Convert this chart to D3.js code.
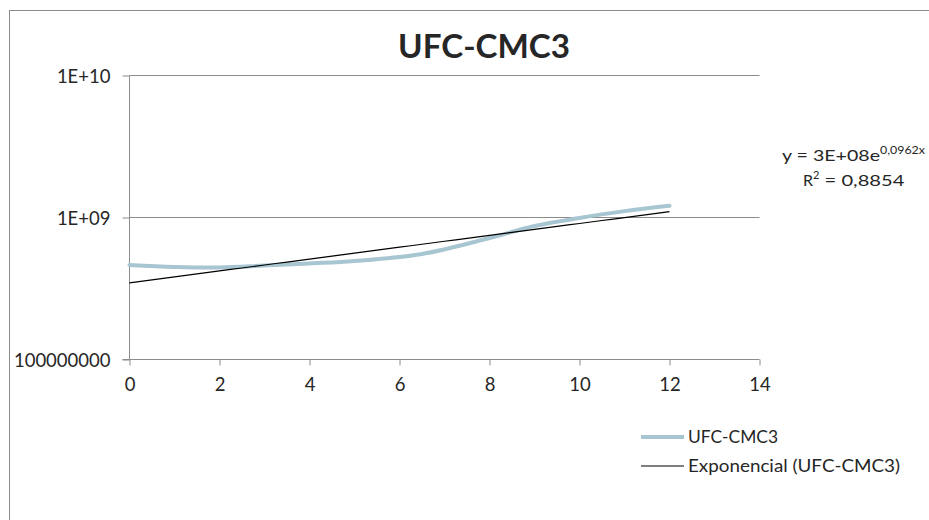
<!DOCTYPE html>
<html>
<head>
<meta charset="utf-8">
<script src="https://cdn.jsdelivr.net/npm/d3@7"></script>
<style>
  html, body { margin: 0; padding: 0; background: #fff; }
  svg text { font-family: Lato, "Noto Sans", sans-serif; fill: #262626; }
</style>
</head>
<body>
<svg id="chart" width="929" height="520"></svg>
<script>
// Measured colony counts (UFC) over time
const hours = [0, 1, 2, 3, 4, 5, 6.5, 8, 9, 10, 11, 12];
const ufc   = [4.59e8, 4.45e8, 4.41e8, 4.55e8, 4.71e8, 4.90e8, 5.49e8, 7.11e8, 8.64e8, 9.84e8, 1.10e9, 1.20e9];

// Exponential trend y = a * e^(b x)
const trendA = 3.44e8;
const trendB = 0.0962;
const trendR2 = 0.8854;

const xTicks = [0, 2, 4, 6, 8, 10, 12, 14];
const yTicks = [1e8, 1e9, 1e10];
const yTickLabels = ["100000000", "1E+09", "1E+10"];

const title = "UFC-CMC3";
const legendLabels = ["UFC-CMC3", "Exponencial (UFC-CMC3)"];

const svg = d3.select("#chart");

// outer chart frame
svg.append("rect")
  .attr("x", 9.5).attr("y", 10.5)
  .attr("width", 960).attr("height", 560)
  .attr("fill", "none").attr("stroke", "#8c8c8c").attr("stroke-width", 1);

const x = d3.scaleLinear().domain([0, 14]).range([129.5, 759.5]);
const y = d3.scaleLog().domain([1e8, 1e10]).range([359, 75]);

// horizontal gridlines
svg.append("g").selectAll("line")
  .data(yTicks.slice(1))
  .join("line")
  .attr("x1", x(0)).attr("x2", x(14))
  .attr("y1", d => Math.round(y(d)) + 0.5).attr("y2", d => Math.round(y(d)) + 0.5)
  .attr("stroke", "#8c8c8c").attr("stroke-width", 1);

// y axis
const yAxis = d3.axisLeft(y)
  .tickValues(yTicks)
  .tickSize(7)
  .tickFormat((d, i) => yTickLabels[i]);
const gy = svg.append("g").attr("transform", `translate(${x(0)},0.5)`).call(yAxis);
gy.select(".domain").attr("stroke", "#8c8c8c").attr("d", `M-7,${Math.round(y(1e8))}H0V${Math.round(y(1e10))}`);
gy.selectAll(".tick line").attr("stroke", "#8c8c8c");
gy.selectAll(".tick text")
  .attr("x", -19)
  .attr("dy", "0.36em")
  .style("font-size", "18.5px")
  .style("font-family", "Lato, 'Noto Sans', sans-serif")
  .attr("fill", "#262626");

// x axis
const xAxis = d3.axisBottom(x).tickValues(xTicks).tickSize(6).tickFormat(d3.format("d"));
const gx = svg.append("g").attr("transform", `translate(0,${Math.round(y(1e8)) + 0.5})`).call(xAxis);
gx.select(".domain").attr("stroke", "#8c8c8c").attr("d", `M${x(0)},0H${x(14)}`);
gx.selectAll(".tick line").attr("stroke", "#8c8c8c");
gx.selectAll(".tick text")
  .attr("y", 18)
  .style("font-size", "18.5px")
  .style("font-family", "Lato, 'Noto Sans', sans-serif")
  .attr("fill", "#262626");

// data series
const line = d3.line()
  .x((d, i) => x(hours[i]))
  .y(d => y(d))
  .curve(d3.curveCatmullRom.alpha(0.5));
svg.append("path")
  .datum(ufc)
  .attr("d", line)
  .attr("fill", "none")
  .attr("stroke", "#a7c6d2")
  .attr("stroke-width", 4)
  .attr("stroke-linecap", "round");

// exponential trend line
const trendPts = d3.range(0, 12.001, 0.25).map(t => [t, trendA * Math.exp(trendB * t)]);
svg.append("path")
  .datum(trendPts)
  .attr("d", d3.line().x(d => x(d[0])).y(d => y(d[1])))
  .attr("fill", "none")
  .attr("stroke", "#000")
  .attr("stroke-width", 1.2);

// title
svg.append("text")
  .attr("x", 398).attr("y", 58)
  .attr("textLength", 172)
  .attr("lengthAdjust", "spacingAndGlyphs")
  .style("font-size", "32px")
  .style("font-weight", "bold")
  .attr("fill", "#000")
  .text(title);

// trend equation
const fmtA = v => {
  const e = Math.floor(Math.log10(v));
  const m = Math.round(v / Math.pow(10, e));
  return `${m}E+${String(e).padStart(2, "0")}`;
};
const comma = v => String(v).replace(".", ",");
const eq = svg.append("text")
  .attr("x", 782).attr("y", 161)
  .style("font-size", "16px");
eq.append("tspan").attr("textLength", 98).attr("lengthAdjust", "spacingAndGlyphs").text(`y = ${fmtA(trendA)}e`);
eq.append("tspan").attr("dy", -7).attr("textLength", 45).attr("lengthAdjust", "spacingAndGlyphs")
  .style("font-size", "11px").text(`${comma(trendB.toFixed(4))}x`);
const r2 = svg.append("text")
  .attr("x", 803).attr("y", 186)
  .style("font-size", "16px");
r2.append("tspan").text("R");
r2.append("tspan").attr("dy", -7).style("font-size", "11px").text("2");
r2.append("tspan").attr("dy", 7).attr("textLength", 85).attr("lengthAdjust", "spacingAndGlyphs")
  .text(` = ${comma(trendR2.toFixed(4))}`);

// legend
const legend = svg.append("g");
const legendStyles = [
  { stroke: "#a7c6d2", width: 4, len: 90 },
  { stroke: "#000", width: 1.2, len: 212 }
];
legendLabels.forEach((lab, i) => {
  const ly = 437 + i * 29;
  legend.append("line")
    .attr("x1", 641).attr("x2", 684)
    .attr("y1", ly).attr("y2", ly)
    .attr("stroke", legendStyles[i].stroke)
    .attr("stroke-width", legendStyles[i].width);
  legend.append("text")
    .attr("x", 688).attr("y", ly + 6)
    .attr("textLength", legendStyles[i].len)
    .attr("lengthAdjust", "spacingAndGlyphs")
    .style("font-size", "18px")
    .text(lab);
});
</script>
</body>
</html>
